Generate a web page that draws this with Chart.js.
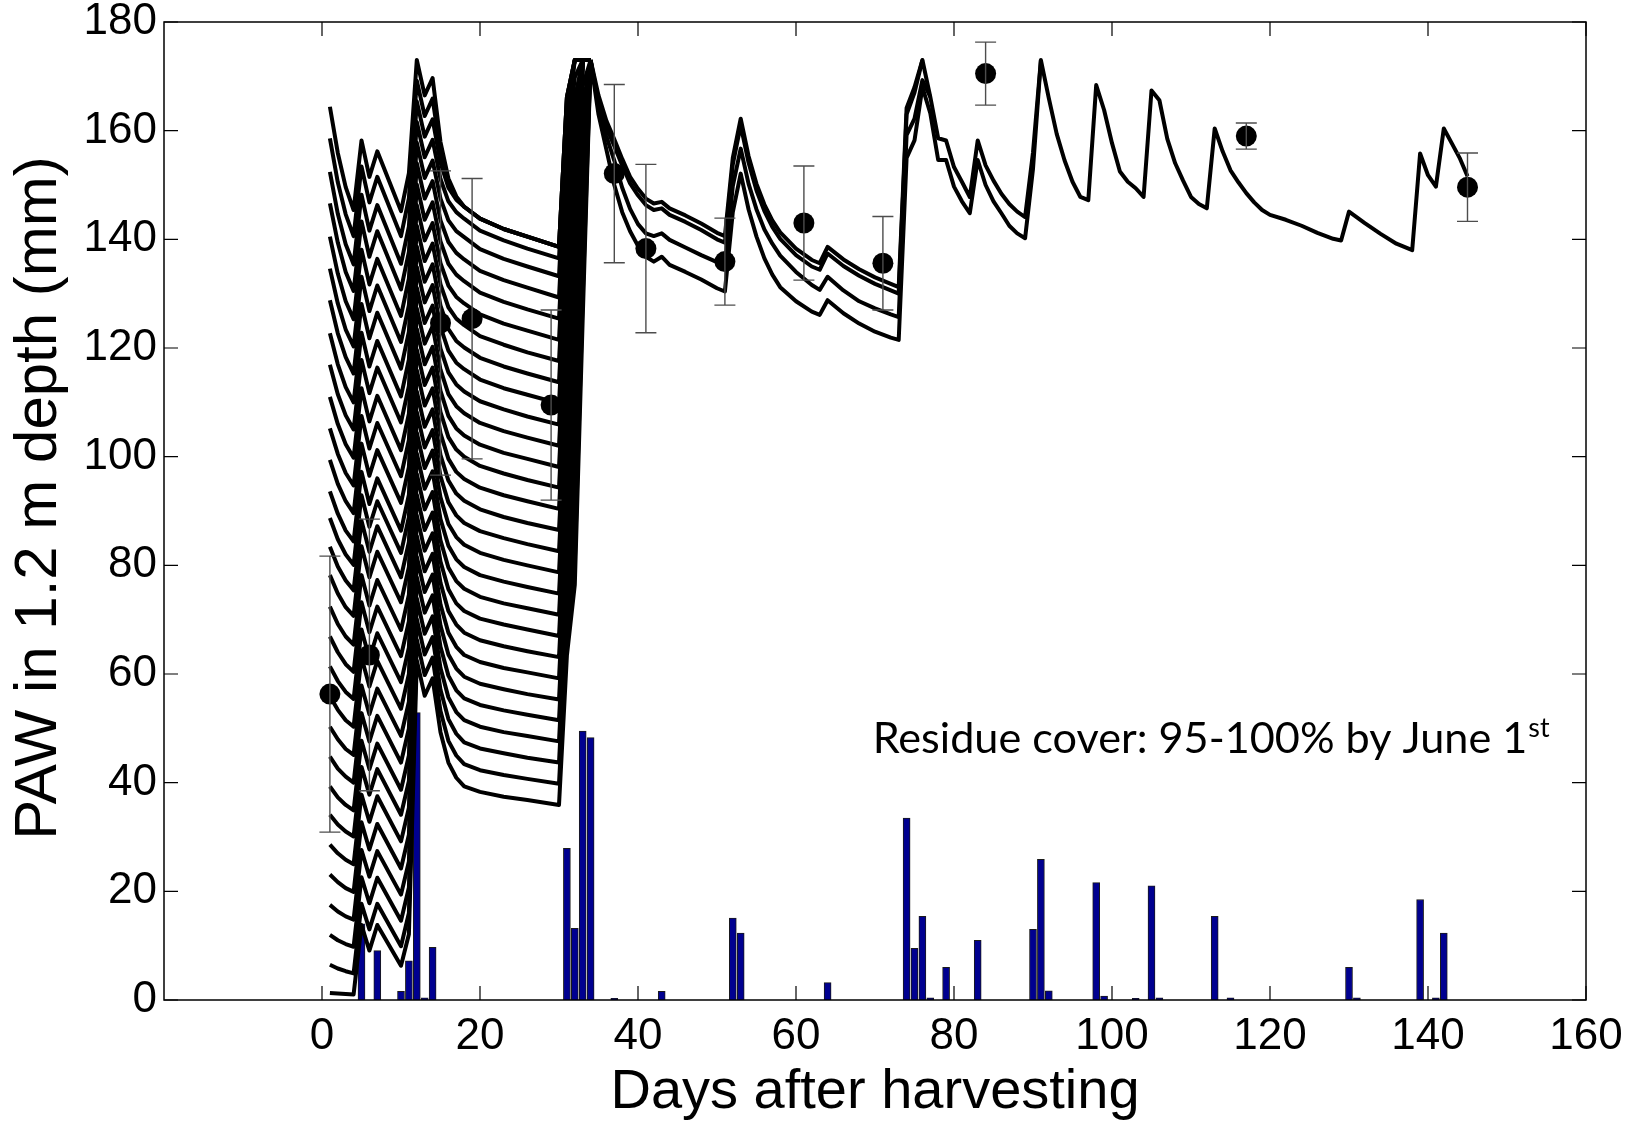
<!DOCTYPE html>
<html><head><meta charset="utf-8">
<script src="https://cdn.jsdelivr.net/npm/chart.js"></script>
<style>html,body{margin:0;padding:0;background:#fff;}#wrap{width:1640px;height:1121px;}</style>
</head><body><div id="wrap"><canvas id="c" width="1640" height="1121"></canvas></div>
<script>
// ---------------- data ----------------
const xTickValues = [0,20,40,60,80,100,120,140,160];
const xTickLabels = ['0','20','40','60','80','100','120','140','160'];
const yTickValues = [0,20,40,60,80,100,120,140,160,180];
const yTickLabels = ['0','20','40','60','80','100','120','140','160','180'];
const xTitle = 'Days after harvesting';
const yTitle = 'PAW in 1.2 m depth (mm)';

// rainfall bars (day, mm)
const rainDays = [5,7,10,11,12,13,14,31,32,33,34,37,43,52,53,64,74,75,76,77,79,83,90,91,92,98,99,103,105,106,113,115,130,131,139,141,142];
const rainMM   = [14.0,9.1,1.6,7.2,52.9,0.4,9.7,27.9,13.2,49.5,48.3,0.3,1.6,15.1,12.3,3.2,33.5,9.5,15.4,0.4,6.0,11.0,13.0,25.9,1.7,21.6,0.7,0.3,21.0,0.4,15.4,0.4,6.0,0.4,18.5,0.4,12.3];

// measured PAW with error bars
const obsDays = [1,6,15,19,29,37,41,51,61,71,84,117,145];
const obsPAW  = [56.3,63.5,124.6,125.4,109.5,152.1,138.3,135.9,143.0,135.6,170.5,159.0,149.6];
const obsErr  = [25.4,25.0,28.0,25.8,17.5,16.4,15.5,8.0,10.5,8.6,5.8,2.4,6.3];

// simulated runs, first 34 days (different initial water contents)
const earlyDays = [1,2,3,4,5,6,7,10,11,12,13,14,15,16,17,18,20,23,26,30,31,32,33,34];
const earlyRuns = [
 [164.4,155.9,149.6,145.4,158.2,151.5,156.2,145.2,152.2,173,166.5,169.7,157.9,151.2,147.9,146.0,143.8,141.9,140.5,138.6,166.1,173,173,173],
 [158.6,150.5,144.6,140.6,153.4,146.8,151.5,140.6,147.6,169.2,162.7,165.9,156.0,150.4,147.6,146.0,143.8,141.9,140.5,138.6,166.1,173,173,173],
 [152.4,144.7,139.1,135.4,148.2,141.6,146.3,135.5,142.4,165.4,158.9,162.1,154.1,149.5,147.3,146.0,143.8,141.9,140.5,138.6,166.1,173,173,173],
 [146.6,139.4,134.0,130.5,143.3,136.8,141.5,130.8,137.7,161.6,155.1,158.3,151.1,147.0,145.0,143.8,141.6,139.8,138.3,136.5,164.0,173,173,173],
 [140.5,133.7,128.6,125.3,138.1,131.7,136.4,125.9,132.8,157.8,151.3,154.5,147.5,143.5,141.5,140.4,138.2,136.4,135.0,133.2,160.7,173,173,173],
 [134.6,128.2,123.4,120.3,133.1,126.8,131.5,121.1,127.9,154.0,147.5,150.7,143.5,139.5,137.5,136.3,134.2,132.5,131.1,129.3,156.8,169.8,173,173],
 [128.8,122.7,118.3,115.3,128.1,121.8,126.5,116.2,123.0,150.1,143.6,146.8,139.6,135.5,133.5,132.3,130.2,128.5,127.1,125.4,152.9,165.9,173,173],
 [122.7,117.0,112.8,110.0,122.8,116.6,121.3,111.1,117.9,146.3,139.8,143.0,135.6,131.5,129.4,128.2,126.2,124.5,123.2,121.5,149.0,162.0,173,173],
 [116.9,111.5,107.6,105.0,117.8,111.7,116.4,106.3,113.0,142.5,136.0,139.2,131.7,127.5,125.4,124.2,122.2,120.6,119.2,117.6,145.1,158.1,173,173],
 [111.0,106.0,102.3,99.8,112.6,106.5,111.2,101.2,107.9,138.7,132.2,135.4,127.8,123.5,121.3,120.1,118.2,116.6,115.3,113.7,141.2,154.2,173,173],
 [105.2,100.5,97.0,94.7,107.5,101.5,106.2,96.4,103.1,134.9,128.4,131.6,123.9,119.5,117.3,116.1,114.2,112.6,111.4,109.8,137.3,150.3,173,173],
 [99.4,95.0,91.8,89.6,102.4,96.5,101.2,91.5,98.1,131.1,124.6,127.8,119.9,115.5,113.3,112.0,110.2,108.7,107.4,105.9,133.4,146.4,173,173],
 [93.6,89.5,86.4,84.4,97.2,91.3,96.0,86.4,93.0,127.3,120.8,124.0,116.0,111.5,109.3,108.0,106.2,104.7,103.5,102.0,129.5,142.5,173,173],
 [88.7,84.8,82.0,80.1,92.9,87.1,91.8,82.3,88.9,123.5,117.0,120.2,112.1,107.5,105.2,103.9,102.2,100.7,99.6,98.1,125.6,138.6,173,173],
 [83.4,79.8,77.2,75.4,88.2,82.5,87.2,77.8,84.3,119.7,113.2,116.4,108.2,103.6,101.3,100.0,98.3,96.9,95.7,94.3,121.8,134.8,173,173],
 [78.2,74.8,72.3,70.7,83.5,77.8,82.5,73.2,79.7,115.9,109.4,112.6,104.3,99.6,97.2,95.9,94.3,92.9,91.8,90.4,117.9,130.9,173,173],
 [72.4,69.2,66.9,65.4,78.2,72.6,77.3,68.1,74.6,112.0,105.5,108.7,100.3,95.6,93.2,91.9,90.3,88.9,87.8,86.5,114.0,127.0,173,173],
 [66.9,64.0,61.8,60.4,73.2,67.7,72.4,63.3,69.7,108.2,101.7,104.9,96.4,91.6,89.2,87.8,86.3,85.0,83.9,82.6,110.1,123.1,173,173],
 [61.4,58.7,56.7,55.4,68.2,62.8,67.5,58.5,64.9,104.4,97.9,101.1,92.5,87.6,85.2,83.8,82.3,81.0,80.0,78.7,106.2,119.2,168.2,173],
 [55.9,53.4,51.5,50.3,63.1,57.7,62.4,53.6,60.0,100.6,94.1,97.3,88.5,83.6,81.1,79.7,78.2,77.0,76.0,74.8,102.3,115.3,164.3,173],
 [50.3,48.0,46.2,45.1,57.9,52.6,57.3,48.6,54.9,96.8,90.3,93.5,84.6,79.6,77.1,75.7,74.2,73.0,72.1,70.9,98.4,111.4,160.4,173],
 [44.8,42.6,41.1,40.0,52.8,47.6,52.3,43.7,50.0,93.0,86.5,89.7,80.7,75.6,73.0,71.6,70.2,69.1,68.2,67.0,94.5,107.5,156.5,173],
 [39.3,37.3,35.9,34.9,47.7,42.5,47.2,38.7,45.0,89.2,82.7,85.9,76.8,71.6,69.1,67.6,66.2,65.1,64.2,63.1,90.6,103.6,152.6,173],
 [34.1,32.3,31.0,30.1,42.9,37.8,42.5,34.1,40.3,85.4,78.9,82.1,72.8,67.6,65.0,63.5,62.2,61.1,60.3,59.2,86.7,99.7,148.7,173],
 [28.6,27.0,25.8,25.0,37.8,32.8,37.5,29.2,35.4,81.6,75.1,78.3,68.9,63.6,61.0,59.5,58.2,57.2,56.3,55.3,82.8,95.8,144.8,173],
 [23.1,21.7,20.6,19.9,32.7,27.7,32.4,24.2,30.4,77.8,71.3,74.5,65.0,59.7,57.0,55.5,54.3,53.3,52.5,51.5,79.0,92.0,141.0,173],
 [17.5,16.3,15.4,14.8,27.6,22.7,27.4,19.4,25.5,73.9,67.4,70.6,61.1,55.7,53.0,51.5,50.3,49.3,48.6,47.6,75.1,88.1,137.1,173],
 [12.0,11.0,10.3,9.8,22.6,17.8,22.5,14.6,20.7,70.1,63.6,66.8,57.1,51.7,49.0,47.4,46.3,45.4,44.6,43.7,71.2,84.2,133.2,173],
 [6.5,5.8,5.3,4.9,17.7,13.0,17.7,9.9,16.0,66.3,59.8,63.0,53.2,47.7,45.0,43.4,42.3,41.4,40.7,39.8,67.3,80.3,129.3,173],
 [1.3,1.2,1.1,1.0,13.8,9.1,13.8,6.3,12.1,62.5,56.0,59.2,49.3,43.7,40.9,39.3,38.3,37.4,36.8,35.9,63.4,76.4,125.4,173]
];

// runs after day 34 (they collapse onto these paths) [day, PAW]
const tailTop = [[34,173],[35,166.5],[36,161.8],[37,158.4],[38,154.8],[39,151.5],[40,149.3],[41,147.5],[42,146.6],[43,146.9],[44,145.7],[46,144.4],[48,142.9],[50,141.2],[51,140.6],[52,155.0],[53,162.2],[54,155.3],[55,150.2],[56,146.4],[57,143.5],[58,141.3],[60,138.3],[62,136.2],[63,135.6],[64,138.6],[66,136.3],[68,134.5],[70,133.0],[72,131.8],[73,131.2],[74,164.2],[75,168.0],[76,173.0],[77,166.2],[78,158.6],[79,158.2],[80,153.3],[81,150.6],[82,147.8],[83,158.2],[84,153.6],[85,150.8],[86,148.4],[87,146.5],[88,145.1],[89,144.1],[90,156.0],[91,173.0],[92,166.0],[93,159.4],[94,154.5],[95,150.6],[96,147.8],[97,147.2],[98,168.4],[99,163.8],[100,157.7],[101,152.5],[102,150.6],[103,149.4],[104,147.8],[105,167.4],[106,165.6],[107,158.5],[108,154.0],[109,150.8],[110,147.8],[111,146.5],[112,145.7],[113,160.4],[114,156.2],[115,152.7],[116,150.5],[117,148.5],[118,146.8],[119,145.4],[120,144.5],[122,143.6],[124,142.5],[126,141.2],[128,140.1],[129,139.8],[130,145.1],[132,143.0],[134,141.0],[136,139.2],[138,138.0],[139,155.8],[140,151.8],[141,149.7],[142,160.4],[143,157.7],[144,155.0],[145,151.6]];
const tailSecond = [[34,173],[35,165.3],[36,160.6],[37,157.2],[38,153.6],[39,150.3],[40,148.1],[41,146.3],[42,145.4],[43,145.7],[44,144.5],[46,143.2],[48,141.7],[50,140.0],[51,139.4],[52,153.8],[53,161.0],[54,154.1],[55,149.0],[56,145.2],[57,142.3],[58,140.1],[60,137.1],[62,135.0],[63,134.4],[64,137.4],[66,135.1],[68,133.3],[70,131.8],[72,130.6],[73,130.0],[74,163.0],[75,167.0],[76,173]];
const tailThird = [[34,173],[35,164.5],[36,159.0],[37,154.5],[38,149.5],[39,145.6],[40,142.8],[41,141.1],[42,140.6],[43,141.1],[44,139.9],[46,138.5],[48,137.1],[50,135.8],[51,135.3],[52,149.8],[53,156.7],[54,150.2],[55,145.5],[56,141.8],[57,139.2],[58,137.0],[60,134.0],[62,131.6],[63,130.7],[64,133.1],[66,130.6],[68,128.6],[70,127.3],[72,126.2],[73,125.7],[74,159.2],[75,162.2],[76,169.3],[77,166.2]];
const tailFourth = [[34,173],[35,163.0],[36,156.5],[37,150.0],[38,145.0],[39,141.5],[40,138.8],[41,136.8],[42,135.9],[43,136.8],[44,135.3],[46,134.0],[48,132.6],[50,131.0],[51,130.4],[52,145.0],[53,152.1],[54,145.5],[55,140.5],[56,136.5],[57,133.5],[58,131.2],[60,128.6],[62,126.7],[63,126.1],[64,128.8],[66,126.4],[68,124.5],[70,123.0],[72,121.9],[73,121.5],[74,155.0],[75,158.2],[76,168.0],[77,163.2],[78,154.6],[79,154.6],[80,149.7],[81,147.0],[82,144.8],[83,154.6],[84,150.0],[85,147.0],[86,144.8],[87,142.5],[88,141.1],[89,140.2],[90,153.0],[91,173]];

const annotationText = 'Residue cover: 95-100% by June 1';
const annotationSup = 'st';
const annotX = 69.7, annotY = 45.5;   // anchor (data units) of the text baseline start

// ---------------- chart ----------------
const FONT = '"Liberation Sans", Arial, Helvetica, sans-serif';
const datasets = [];
datasets.push({type:'line', data: obsDays.map((d,i)=>({x:d,y:obsPAW[i]})), showLine:false,
  pointRadius:10.5, pointBackgroundColor:'#000', pointBorderColor:'#000', pointBorderWidth:0, order:0});
const lineStyle = {type:'line', borderColor:'#000', borderWidth:4, pointRadius:0, tension:0, fill:false,
  borderJoinStyle:'round', borderCapStyle:'butt', order:1};
earlyRuns.forEach(run => datasets.push(Object.assign({}, lineStyle, {data: earlyDays.map((d,i)=>({x:d,y:run[i]}))})));
[tailTop, tailSecond, tailThird, tailFourth].forEach(t => datasets.push(Object.assign({}, lineStyle, {data: t.map(p=>({x:p[0],y:p[1]}))})));
datasets.push({type:'bar', data: rainDays.map((d,i)=>({x:d,y:rainMM[i]})), backgroundColor:'#000090',
  borderColor:'#1a1a1a', borderWidth:1, barThickness:7, grouped:false, order:2});

const errorBars = {id:'errorBars', afterDatasetsDraw(chart){
  const {ctx, scales:{x,y}} = chart; ctx.save(); ctx.strokeStyle='#4d4d4d'; ctx.lineWidth=1.4;
  obsDays.forEach((d,i)=>{ const px=x.getPixelForValue(d), t=y.getPixelForValue(obsPAW[i]+obsErr[i]), b=y.getPixelForValue(obsPAW[i]-obsErr[i]);
    ctx.beginPath(); ctx.moveTo(px,t); ctx.lineTo(px,b); ctx.moveTo(px-10.5,t); ctx.lineTo(px+10.5,t); ctx.moveTo(px-10.5,b); ctx.lineTo(px+10.5,b); ctx.stroke(); });
  ctx.restore(); }};

const frame = {id:'frame', afterDraw(chart){
  const {ctx, chartArea:a, scales:{x,y}} = chart; ctx.save(); ctx.strokeStyle='#000';
  ctx.lineWidth=1.5; ctx.strokeRect(a.left, a.top, a.right-a.left, a.bottom-a.top);
  ctx.lineWidth=1.2; const L=14; ctx.beginPath();
  xTickValues.forEach(v=>{const p=x.getPixelForValue(v); ctx.moveTo(p,a.bottom); ctx.lineTo(p,a.bottom-L); ctx.moveTo(p,a.top); ctx.lineTo(p,a.top+L);});
  yTickValues.forEach(v=>{const p=y.getPixelForValue(v); ctx.moveTo(a.left,p); ctx.lineTo(a.left+L,p); ctx.moveTo(a.right,p); ctx.lineTo(a.right-L,p);});
  ctx.stroke();
  // y axis title, centred slightly above the plot middle as in the original
  ctx.save(); ctx.translate(39.6, 498); ctx.rotate(-Math.PI/2);
  ctx.font = '60px '+FONT; ctx.fillStyle='#000'; ctx.textAlign='center'; ctx.textBaseline='middle';
  ctx.fillText(yTitle, 0, 0); ctx.restore();
  // annotation text
  const x0 = x.getPixelForValue(annotX), yb = y.getPixelForValue(annotY);
  ctx.font = '100px Lato, "Open Sans", sans-serif';
  const w100 = ctx.measureText('Residue cover: 95-100%').width;
  const size = 100*462/w100;
  ctx.font = size.toFixed(2)+'px Lato, "Open Sans", sans-serif';
  ctx.fillStyle='#000'; ctx.textBaseline='alphabetic'; ctx.textAlign='left';
  ctx.fillText(annotationText, x0, yb);
  const w = ctx.measureText(annotationText).width;
  ctx.font = (size*0.62).toFixed(2)+'px Lato, "Open Sans", sans-serif';
  ctx.fillText(annotationSup, x0+w+1, yb-size*0.36);
  ctx.restore(); }};

new Chart(document.getElementById('c'), {
  type:'line',
  data:{datasets},
  options:{
    responsive:false, animation:false, devicePixelRatio:1,
    layout:{padding:{left:0,right:54,top:22,bottom:0}},
    plugins:{legend:{display:false}, tooltip:{enabled:false}},
    scales:{
      x:{type:'linear', min:-20, max:160, offset:false,
        ticks:{stepSize:20, autoSkip:false, maxRotation:0, color:'#000', padding:10, font:{family:FONT,size:44},
          callback:(v)=>{const i=xTickValues.indexOf(v); return i>=0?xTickLabels[i]:'';}},
        grid:{display:false, drawTicks:false}, border:{display:false},
        title:{display:true, text:xTitle, color:'#000', font:{family:FONT,size:56,lineHeight:1.0}, padding:{top:0,bottom:0}},
        afterFit(s){ s.height=121; s.paddingLeft=0; s.paddingRight=0; }},
      y:{type:'linear', min:0, max:180,
        ticks:{stepSize:20, color:'#000', padding:7, font:{family:FONT,size:44},
          callback:(v)=>{const i=yTickValues.indexOf(v); return i>=0?yTickLabels[i]:'';}},
        grid:{display:false, drawTicks:false}, border:{display:false},
        title:{display:false},
        afterFit(s){ s.width=164; s.paddingTop=0; s.paddingBottom=0; }}
    }
  },
  plugins:[errorBars, frame]
});
</script></body></html>
